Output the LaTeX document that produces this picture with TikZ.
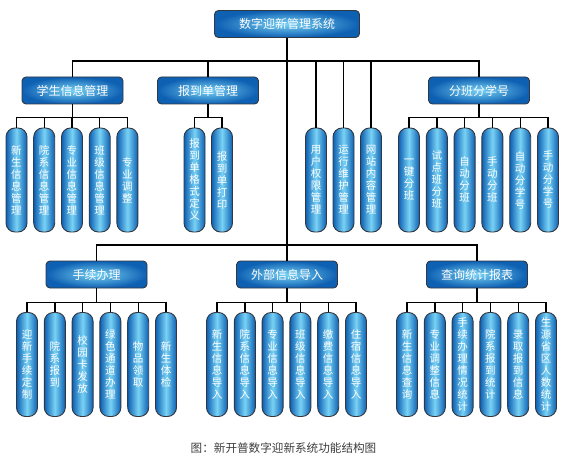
\documentclass[tikz,border=0pt]{standalone}
\usepackage{fontspec}
\setmainfont{Noto Sans CJK SC}
\usetikzlibrary{calc}
\definecolor{box-dark}{RGB}{14, 96, 178}
\definecolor{box-light}{RGB}{120, 210, 245}
\definecolor{box-edge}{RGB}{50, 55, 65}
\definecolor{caption-gray}{RGB}{60, 60, 60}

\begin{document}
\begin{tikzpicture}[x=1pt, y=-1pt,
    catbox/.style={draw=box-edge, line width=0.9pt, rounded corners=4pt, inner color=box-light, outer color=box-dark, minimum width=101pt, minimum height=27pt, text=white, font=\fontsize{12}{12}\selectfont},
    leafbox/.style={draw=box-edge, line width=0.9pt, rounded corners=9pt, left color=box-dark, right color=box-dark, middle color=box-light, minimum width=21pt, minimum height=104pt, inner sep=0pt, text=white, align=center, font=\fontsize{10.5}{12}\selectfont},
    link/.style={line width=1.4pt, black}]
            \useasboundingbox (0, 0) rectangle (563, 460);
            % root and the two buses
            \node[catbox, minimum width=145pt] (root) at (287, 24) {数字迎新管理系统};
            \coordinate (bus1) at (287, 61);
            \coordinate (bus2) at (287, 245);
            \draw[link] (root.south) -- (bus1) -- (bus2);
            % first row
            \node[catbox] (xsxx) at (72.5, 90.5) {学生信息管理};
            \node[catbox] (bdgl) at (208, 90.5) {报到单管理};
            \node[catbox] (fbfx) at (479, 90.5) {分班分学号};
            \draw[link] (bus1) -| (xsxx.north);
            \draw[link] (bus1) -| (bdgl.north);
            \draw[link] (bus1) -| (fbfx.north);
            \foreach \x/\t [count=\i] in {16.5/{新\\生\\信\\息\\管\\理}, 44.2/{院\\系\\信\\息\\管\\理}, 72/{专\\业\\信\\息\\管\\理}, 99.7/{班\\级\\信\\息\\管\\理}, 127.4/{专\\业\\调\\整}} {
                \node[leafbox] (xs-\i) at (\x, 180) {\t};
                \draw[link] (xsxx.south) -- ++(0, 13) -| (xs-\i.north);
            }
            \foreach \x/\t [count=\i] in {194.5/{报\\到\\单\\格\\式\\定\\义}, 222/{报\\到\\单\\打\\印}} {
                \node[leafbox] (bd-\i) at (\x, 180) {\t};
                \draw[link] (bdgl.south) -- ++(0, 13) -| (bd-\i.north);
            }
            \foreach \x/\t [count=\i] in {316/{用\\户\\权\\限\\管\\理}, 343.5/{运\\行\\维\\护\\管\\理}, 371/{网\\站\\内\\容\\管\\理}} {
                \node[leafbox] (xt-\i) at (\x, 180) {\t};
                \draw[link] (bus1) -| (xt-\i.north);
            }
            \foreach \x/\t [count=\i] in {409/{一\\键\\分\\班}, 436.8/{试\\点\\班\\分\\班}, 464.6/{自\\动\\分\\班}, 492.4/{手\\动\\分\\班}, 520.2/{自\\动\\分\\学\\号}, 548/{手\\动\\分\\学\\号}} {
                \node[leafbox] (fb-\i) at (\x, 180) {\t};
                \draw[link] (fbfx.south) -- ++(0, 13) -| (fb-\i.north);
            }
            % second row
            \node[catbox] (sxbl) at (96.5, 274.5) {手续办理};
            \node[catbox] (wbdr) at (287, 274.5) {外部信息导入};
            \node[catbox] (cxtj) at (477, 274.5) {查询统计报表};
            \draw[link] (bus2) -| (sxbl.north);
            \draw[link] (bus2) -| (cxtj.north);
            \draw[link] (bus2) -- (wbdr.north);
            \foreach \x/\t [count=\i] in {27/{迎\\新\\手\\续\\定\\制}, 54.8/{院\\系\\报\\到}, 82.6/{校\\园\\卡\\发\\放}, 110.4/{绿\\色\\通\\道\\办\\理}, 138.2/{物\\品\\领\\取}, 166/{新\\生\\体\\检}} {
                \node[leafbox] (sx-\i) at (\x, 364.5) {\t};
                \draw[link] (sxbl.south) -- ++(0, 14) -| (sx-\i.north);
            }
            \foreach \x/\t [count=\i] in {217/{新\\生\\信\\息\\导\\入}, 244.8/{院\\系\\信\\息\\导\\入}, 272.6/{专\\业\\信\\息\\导\\入}, 300.4/{班\\级\\信\\息\\导\\入}, 328.2/{缴\\费\\信\\息\\导\\入}, 356/{住\\宿\\信\\息\\导\\入}} {
                \node[leafbox] (wb-\i) at (\x, 364.5) {\t};
                \draw[link] (wbdr.south) -- ++(0, 14) -| (wb-\i.north);
            }
            \foreach \x/\t [count=\i] in {407/{新\\生\\信\\息\\查\\询}, 434.8/{专\\业\\调\\整\\信\\息}, 462.6/{手\\续\\办\\理\\情\\况\\统\\计}, 490.4/{院\\系\\报\\到\\统\\计}, 518.2/{录\\取\\报\\到\\信\\息}, 546/{生\\源\\省\\区\\人\\数\\统\\计}} {
                \node[leafbox] (cx-\i) at (\x, 364.5) {\t};
                \draw[link] (cxtj.south) -- ++(0, 14) -| (cx-\i.north);
            }
            % caption
            \node[text=caption-gray, font=\fontsize{11.6}{11.6}\selectfont] (caption) at (283.5, 448) {图：新开普数字迎新系统功能结构图};
        \end{tikzpicture}
\end{document}
